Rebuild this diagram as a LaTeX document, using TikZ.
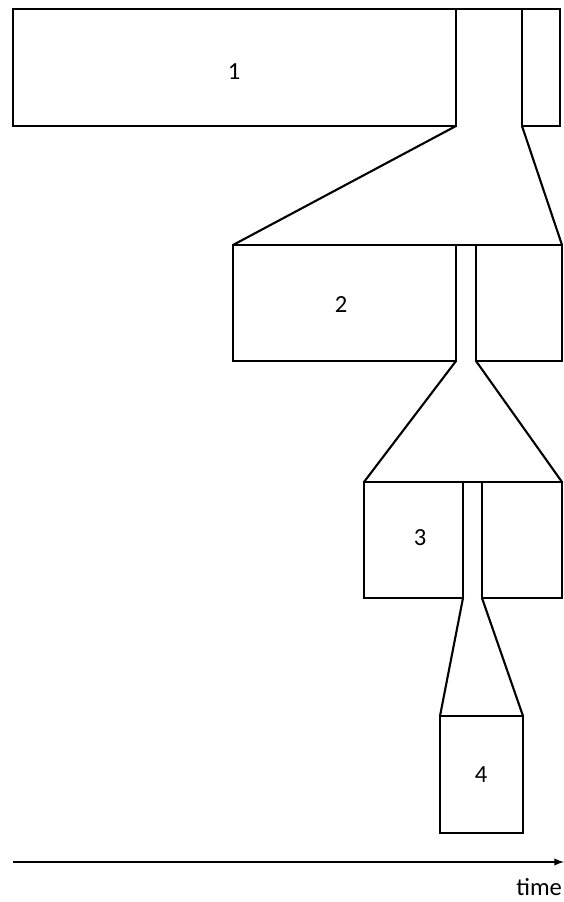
\documentclass[tikz,border=0pt]{standalone}
\usepackage{fontspec}
\setmainfont{Carlito}
\begin{document}
\begin{tikzpicture}[x=0.03cm,y=-0.03cm,line width=1.8pt,
    lbl/.style={font=\fontsize{21}{25}\selectfont}]
    \useasboundingbox (0,0) rectangle (564,902);
    % stage 1
    \coordinate (a1) at (13,9);
    \coordinate (a2) at (456,126);
    \coordinate (a3) at (522,9);
    \coordinate (a4) at (560,126);
    \draw (a1) rectangle (a2);
    \draw (a3) rectangle (a4);
    \draw (a1) -- (a3);
    \node[lbl] (n1) at (234,72) {1};
    % stage 2
    \coordinate (b1) at (233,245);
    \coordinate (b2) at (456,361);
    \coordinate (b3) at (476,245);
    \coordinate (b4) at (562,361);
    \draw (b1) rectangle (b2);
    \draw (b3) rectangle (b4);
    \draw (b1) -- (b3);
    \draw (a2) -- (b1);
    \draw (522,126) -- (562,245);
    \node[lbl] (n2) at (341,305) {2};
    % stage 3
    \coordinate (c1) at (364,482);
    \coordinate (c2) at (463,598);
    \coordinate (c3) at (482,482);
    \coordinate (c4) at (562,598);
    \draw (c1) rectangle (c2);
    \draw (c3) rectangle (c4);
    \draw (c1) -- (c3);
    \draw (b2) -- (c1);
    \draw (476,361) -- (562,482);
    \node[lbl] (n3) at (420,538) {3};
    % stage 4
    \coordinate (d1) at (440,716);
    \coordinate (d2) at (523,833);
    \draw (d1) rectangle (d2);
    \draw (c2) -- (d1);
    \draw (482,598) -- (523,716);
    \node[lbl] (n4) at (481,775) {4};
    % time axis
    \coordinate (t0) at (13,862);
    \coordinate (t1) at (564,862);
    \draw[-latex] (t0) -- (t1);
    \node[lbl, anchor=north east, inner sep=0pt] (tl) at (563,877) {time};
\end{tikzpicture}
\end{document}
